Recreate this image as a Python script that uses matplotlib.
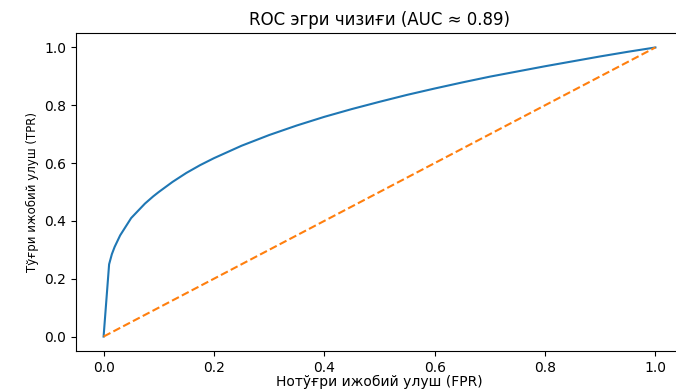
import matplotlib.pyplot as plt

plt.rcParams['font.family'] = ['DejaVu Sans']

fpr = [0.0, 0.01, 0.015, 0.02, 0.03, 0.04, 0.05, 0.06, 0.075, 0.09, 0.1,
       0.125, 0.15, 0.175, 0.2, 0.25, 0.3, 0.35, 0.4, 0.45, 0.5, 0.55,
       0.6, 0.65, 0.7, 0.75, 0.8, 0.85, 0.9, 0.95, 1.0]
tpr = [0.0, 0.25, 0.285, 0.31, 0.35, 0.38, 0.41, 0.43, 0.46, 0.485, 0.50,
       0.535, 0.566, 0.593, 0.617, 0.66, 0.697, 0.73, 0.76, 0.787, 0.812,
       0.836, 0.858, 0.879, 0.899, 0.917, 0.935, 0.952, 0.969, 0.985, 1.0]
diag = [0.0, 1.0]

fig = plt.figure(figsize=(6.76, 3.90), dpi=100)
ax = fig.add_axes([76 / 676, 39 / 390, 607 / 676, 318 / 390])

ax.plot(fpr, tpr, c='C0')
ax.plot(diag, diag, c='C1', linestyle='--')

ax.set_title('ROC эгри чизиғи (AUC ≈ 0.89)', fontsize=12)
ax.set_xlabel('Нотўғри ижобий улуш (FPR)', fontsize=10)
ax.xaxis.set_label_coords(303.5 / 607, -24 / 318)
ax.set_ylabel('Тўғри ижобий улуш (TPR)', fontsize=8.5)
ax.tick_params(labelsize=10)

fig.savefig('out.png', dpi=100)
